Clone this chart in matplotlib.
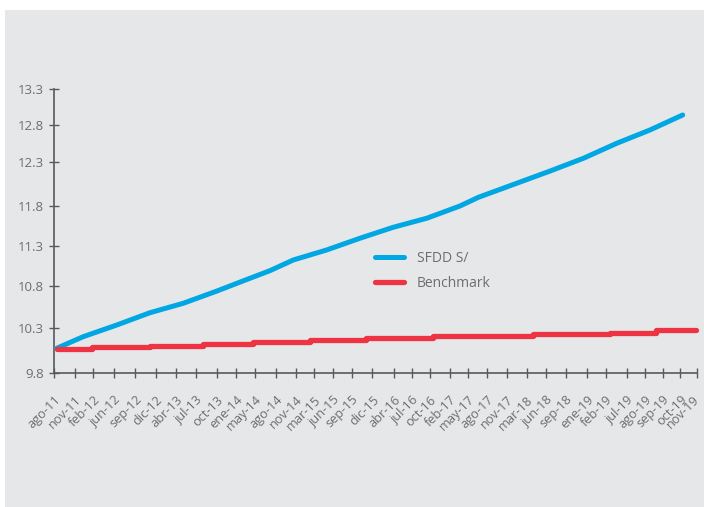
import numpy as np
import matplotlib
matplotlib.use("Agg")
import matplotlib.pyplot as plt
from matplotlib.patches import Rectangle
from matplotlib.ticker import NullLocator
from matplotlib.transforms import ScaledTranslation

# ---------------- data ----------------
tick_labels = ["ago-11", "nov-11", "feb-12", "jun-12", "sep-12", "dic-12", "abr-13",
               "jul-13", "oct-13", "ene-14", "may-14", "ago-14", "nov-14", "mar-15",
               "jun-15", "sep-15", "dic-15", "abr-16", "jul-16", "oct-16", "feb-17",
               "may-17", "ago-17", "nov-17", "mar-18", "jun-18", "sep-18", "ene-19",
               "feb-19", "jul-19", "ago-19", "sep-19", "oct-19", "nov-19"]
y_ticks = [9.8, 10.3, 10.8, 11.3, 11.8, 12.3, 12.8, 13.3]

# position along the category axis (tick index units) and value
sfdd_x = [0.13, 1.45, 3.12, 4.72, 6.38, 8.0, 9.74, 10.71, 11.88, 13.65, 15.4,
          16.95, 18.82, 20.56, 21.56, 25.22, 26.84, 28.52, 30.28, 32.16]
sfdd_y = [10.078, 10.207, 10.339, 10.484, 10.596, 10.741, 10.896, 10.990, 11.123,
          11.247, 11.393, 11.530, 11.643, 11.796, 11.895, 12.194, 12.346, 12.551,
          12.732, 12.940]

bench_x = [0.13, 1.93, 4.72, 7.34, 9.9, 12.77, 15.69, 19.15, 24.33, 28.19, 30.62, 32.96]
bench_y = [10.067, 10.089, 10.107, 10.126, 10.144, 10.170, 10.192, 10.218, 10.237,
           10.251, 10.278, 10.278]

# ---------------- layout (reference axis geometry, pixels) ----------------
W, H = 704, 507
x_tick_px = [54, 75, 93.3, 114.3, 135, 155.7, 175.7, 195.7, 217, 235.7, 255, 276,
             295.7, 314.3, 333.3, 351.7, 372.3, 394.3, 411.7, 430, 450, 467.7, 486.7,
             506.7, 526.7, 545.7, 565.7, 586.7, 606, 626.7, 645, 662.7, 680, 696.7]
y_tick_px = [373.3, 328.3, 286, 245.7, 205.7, 161.7, 125, 89.3]


def piecewise(src, dst):
    src = np.asarray(src, float)
    dst = np.asarray(dst, float)
    s0 = (dst[1] - dst[0]) / (src[1] - src[0])
    s1 = (dst[-1] - dst[-2]) / (src[-1] - src[-2])

    def f(v):
        v = np.asarray(v, float)
        out = np.interp(v, src, dst)
        out = np.where(v < src[0], dst[0] + (v - src[0]) * s0, out)
        out = np.where(v > src[-1], dst[-1] + (v - src[-1]) * s1, out)
        return out
    return f


idx = np.arange(len(tick_labels), dtype=float)
fx = piecewise(idx, x_tick_px)
fx_inv = piecewise(x_tick_px, idx)
y_up = [H - p for p in y_tick_px]
fy = piecewise(y_ticks, y_up)
fy_inv = piecewise(y_up, y_ticks)

BLUE = "#00a7e3"
RED = "#ee3342"
TXT = "#6d6e71"
AX = "#58595b"
BG = "#e6e7e9"

plt.rcParams['font.family'] = ['Open Sans', 'DejaVu Sans']

fig = plt.figure(figsize=(W / 100, H / 100), dpi=100)
fig.patch.set_facecolor("white")
fig.add_artist(Rectangle((4.5 / W, 0), 1, 1 - 10 / H, transform=fig.transFigure,
                         facecolor=BG, edgecolor="none", zorder=-10))

left, right = x_tick_px[0], x_tick_px[-1]
bottom, top = y_tick_px[0], y_tick_px[-1]
ax = fig.add_axes([left / W, (H - bottom) / H, (right - left) / W, (bottom - top) / H])
ax.patch.set_alpha(0)
ax.set_xscale("function", functions=(fx, fx_inv))
ax.set_yscale("function", functions=(fy, fy_inv))
ax.set_xlim(0, len(tick_labels) - 1)
ax.set_ylim(y_ticks[0], y_ticks[-1])

ax.plot(sfdd_x, sfdd_y, color=BLUE, lw=3.6, solid_capstyle="round",
        solid_joinstyle="round", label="SFDD S/", clip_on=False, zorder=3)
ax.plot(bench_x, bench_y, color=RED, lw=3.8, drawstyle="steps-post",
        solid_capstyle="round", label="Benchmark", clip_on=False, zorder=3)

ax.set_xticks(idx)
ax.set_xticklabels(tick_labels, rotation=45, ha="right", va="top",
                   rotation_mode="anchor")
ax.set_yticks(y_ticks)
ax.set_yticklabels([f"{v:.1f}" for v in y_ticks])
ax.xaxis.set_minor_locator(NullLocator())
ax.yaxis.set_minor_locator(NullLocator())
ax.tick_params(direction="inout", length=6.5, width=1.0, color=AX,
               labelcolor=TXT)
ax.tick_params(axis="y", pad=4, labelsize=9.5)
ax.tick_params(axis="x", pad=11, labelsize=9.2)

# keep the last rotated label inside the canvas
last = ax.get_xticklabels()[-1]
last.set_transform(last.get_transform() + ScaledTranslation(-4 / 100, 0, fig.dpi_scale_trans))

for s in ("top", "right"):
    ax.spines[s].set_visible(False)
for s in ("left", "bottom"):
    ax.spines[s].set_color(AX)
    ax.spines[s].set_linewidth(1.2)

leg = ax.legend(loc="upper left", bbox_to_anchor=(375 / W, (H - 250.5) / H),
                bbox_transform=fig.transFigure, frameon=False, borderpad=0,
                borderaxespad=0, handlelength=2.08, handletextpad=0.93,
                labelspacing=0.75, fontsize=10, labelcolor=TXT)

fig.savefig("out.png", dpi=100)
